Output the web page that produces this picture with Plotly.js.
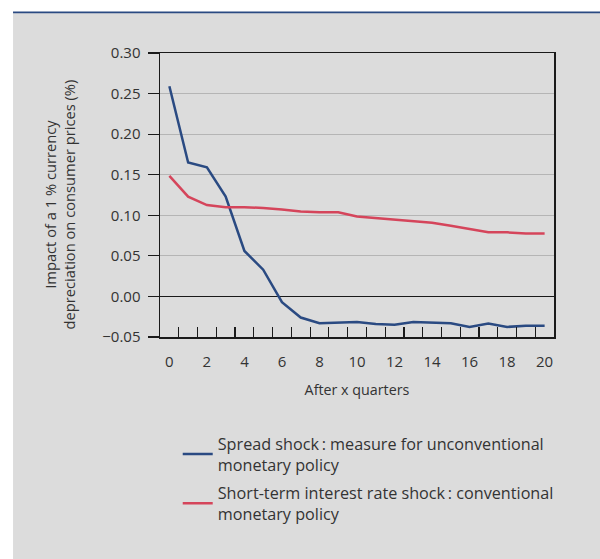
<!DOCTYPE html>
<html>
<head>
<meta charset="utf-8">
<script src="https://cdn.plot.ly/plotly-3.0.1.min.js"></script>
<style>
  html, body { margin: 0; padding: 0; background: #ffffff; }
  #chart { width: 600px; height: 559px; }
</style>
</head>
<body>
<div id="chart"></div>
<script>
// Quarters after the shock
const quarters = [0, 1, 2, 3, 4, 5, 6, 7, 8, 9, 10, 11, 12, 13, 14, 15, 16, 17, 18, 19, 20];

// Pass-through of a 1 % currency depreciation to consumer prices (%)
const spreadShock = [0.259, 0.165, 0.159, 0.123, 0.056, 0.033, -0.007, -0.026, -0.033, -0.0326, -0.0314,
                     -0.034, -0.035, -0.0314, -0.032, -0.033, -0.0376, -0.0334, -0.0376, -0.036, -0.036];
const rateShock = [0.1485, 0.123, 0.1126, 0.110, 0.110, 0.109, 0.107, 0.1048, 0.1036, 0.1036, 0.0986,
                   0.0965, 0.0949, 0.0932, 0.0908, 0.087, 0.083, 0.079, 0.079, 0.0776, 0.0776];

const seriesNames = [
  'Spread shock\u2009: measure for unconventional<br>monetary policy',
  'Short-term interest rate shock\u2009: conventional<br>monetary policy'
];

const yTickVals = [-0.05, 0, 0.05, 0.10, 0.15, 0.20, 0.25, 0.30];
const yTickText = ['\u22120.05', '0.00', '0.05', '0.10', '0.15', '0.20', '0.25', '0.30'];
const xLabelVals = [0, 2, 4, 6, 8, 10, 12, 14, 16, 18, 20];
const xMinorVals = quarters.slice(0, 20).map(q => q + 0.5);

const yTitle = 'Impact of a 1 % currency<br>depreciation on consumer prices (%)';
const xTitle = 'After x quarters';

const FONT = '"Open Sans", "Noto Sans", sans-serif';
const TEXT = '#333333';

const traces = [
  {
    x: quarters, y: spreadShock, name: seriesNames[0], legendgroup: 'spread',
    type: 'scatter', mode: 'lines',
    line: { color: '#2a4a82', width: 2.5 }
  },
  {
    x: quarters, y: rateShock, name: seriesNames[1], legendgroup: 'rate',
    type: 'scatter', mode: 'lines',
    line: { color: '#d5455b', width: 2.5 }
  },
  // helper trace so that the secondary x axis (inner tick marks) is drawn
  {
    x: [quarters[0]], y: [null], xaxis: 'x2', type: 'scatter', mode: 'lines',
    showlegend: false, hoverinfo: 'skip'
  }
];

const layout = {
  width: 600,
  height: 559,
  margin: { l: 160, r: 46, t: 53, b: 222 },
  paper_bgcolor: '#ffffff',
  plot_bgcolor: '#ffffff',
  font: { family: FONT, color: TEXT, size: 15 },
  showlegend: true,
  legend: {
    x: 0.045, y: -0.315, xanchor: 'left', yanchor: 'top',
    bgcolor: 'rgba(0,0,0,0)',
    font: { family: FONT, size: 16.2, color: TEXT },
    traceorder: 'grouped',
    tracegroupgap: 4,
    valign: 'middle'
  },
  xaxis: {
    range: [-0.5, 20.5],
    tickvals: xLabelVals,
    ticks: 'outside', ticklen: 10, tickcolor: 'rgba(0,0,0,0)',
    showgrid: false, zeroline: false,
    showline: true, linecolor: '#1a1a1a', linewidth: 1.5, mirror: true,
    tickfont: { size: 15 },
    title: { text: xTitle, font: { size: 14.3 }, standoff: 15 }
  },
  xaxis2: {
    overlaying: 'x', matches: 'x', anchor: 'y', side: 'bottom',
    tickvals: xMinorVals, ticks: 'inside', ticklen: 10, tickwidth: 1.2, tickcolor: '#1a1a1a',
    showticklabels: false, showgrid: false, zeroline: false, showline: false
  },
  yaxis: {
    range: [-0.05, 0.30],
    tickvals: yTickVals, ticktext: yTickText,
    ticks: 'outside', ticklen: 11, tickwidth: 1.2, tickcolor: '#1a1a1a',
    ticklabelstandoff: 4,
    showgrid: true, gridcolor: '#b5b5b5', gridwidth: 1.2,
    zeroline: true, zerolinecolor: '#1a1a1a', zerolinewidth: 1.5,
    showline: true, linecolor: '#1a1a1a', linewidth: 1.5, mirror: true,
    tickfont: { size: 15 }
  },
  shapes: [
    // grey panel behind the chart
    { type: 'rect', xref: 'paper', yref: 'paper', layer: 'below',
      x0: -0.373, x1: 1.117, y0: -0.784, y1: 1.143,
      fillcolor: '#dcdcdc', line: { width: 0 } },
    // rule along the top of the panel
    { type: 'line', xref: 'paper', yref: 'paper',
      x0: -0.373, x1: 1.117, y0: 1.143, y1: 1.143,
      line: { color: '#2a4a82', width: 1.8 } }
  ],
  annotations: [
    { text: yTitle, xref: 'paper', yref: 'paper', x: -0.255, y: 0.465,
      xanchor: 'center', yanchor: 'middle', textangle: -90, showarrow: false,
      font: { size: 14.7, color: TEXT } }
  ]
};

Plotly.newPlot('chart', traces, layout, { staticPlot: true, displayModeBar: false });
</script>
</body>
</html>
